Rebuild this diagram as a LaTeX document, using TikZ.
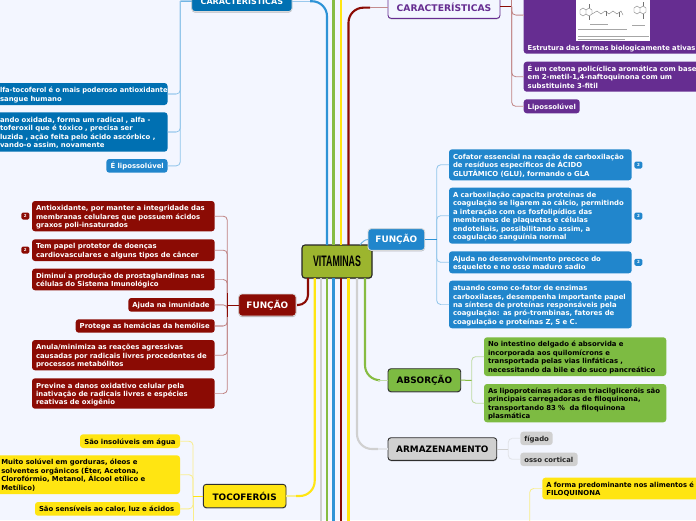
\documentclass[tikz,border=0pt]{standalone}
\usepackage{graphicx}
\usepackage{fontspec}
\setmainfont{DejaVu Sans}
\newfontfamily\titlefont{Liberation Sans}
\usetikzlibrary{shadows}
\definecolor{pagebg}{HTML}{F3F6FF}
\definecolor{cRed}{HTML}{8B0B04}
\definecolor{cBlueD}{HTML}{0070B2}
\definecolor{cBlue}{HTML}{2186CC}
\definecolor{cLine}{HTML}{2E93D6}
\definecolor{cPurple}{HTML}{662D91}
\definecolor{cYellow}{HTML}{FFE512}
\definecolor{cGreen}{HTML}{7DBB42}
\definecolor{cGreenL}{HTML}{86BC42}
\definecolor{cGray}{HTML}{D0D0D0}
\definecolor{cOlive}{HTML}{9CB52E}
\definecolor{cEdge}{HTML}{2E2E2E}
\tikzset{
  leafbody/.style={rounded corners=3pt, font=\fontsize{6.9}{8.45}\selectfont\bfseries, inner sep=0pt, outer sep=0pt},
  leafred/.style={leafbody, fill=cRed, text=white},
  leafdeep/.style={leafbody, fill=cBlueD, text=white},
  leafblue/.style={leafbody, fill=cBlue, text=white},
  leafpurple/.style={leafbody, fill=cPurple, text=white},
  leafyellow/.style={leafbody, fill=cYellow, text=black},
  leafgreen/.style={leafbody, fill=cGreen, text=black},
  leafgray/.style={leafbody, fill=cGray, text=black!85},
  topic/.style={rounded corners=3pt, align=center, inner sep=0pt, outer sep=0pt, line width=0.9pt,
    font=\fontsize{8.9}{10}\selectfont\bfseries,
    drop shadow={shadow xshift=0pt, shadow yshift=-1pt, opacity=0.25, fill=black}},
  topiclight/.style={topic, draw=white!85!black, text=white},
  topicdark/.style={topic, draw=cEdge, text=black},
  badge/.style={rounded corners=1.5pt, minimum width=8pt, minimum height=7pt, inner sep=0pt, text=white,
    font=\fontsize{4}{4}\selectfont\bfseries},
  trunk/.style={line width=2.1pt, draw=#1},
  tail/.style={line width=1.1pt, draw=#1!45!pagebg},
  twig/.style={line width=0.8pt, draw=#1!50!pagebg, rounded corners=4pt},
  twigend/.style={line width=1.1pt, draw=#1!30!pagebg},
  stub/.style={line width=1pt, draw=#1},
}
% style, name, x0, y0, x1, y1, left padding, text
\newcommand{\leaf}[8]{%
  \pgfmathsetmacro{\bw}{#5-(#3)}%
  \pgfmathsetmacro{\bh}{#6-(#4)}%
  \pgfmathsetmacro{\bx}{(#3+#5)/2}%
  \pgfmathsetmacro{\by}{(#4+#6)/2}%
  \node[#1, text width=\bw pt, minimum height=\bh pt] (#2) at (\bx,\by)
    {\leftskip=#7pt\relax\rightskip=-80pt plus 1fil\relax\parindent=0pt\relax\parfillskip=0pt plus 1fil\relax \rule{0pt}{8.4pt}#8\rule[-2.5pt]{0pt}{2.5pt}\par};%
}
\newcommand{\topicbox}[7]{%
  \pgfmathsetmacro{\bw}{#5-(#3)}%
  \pgfmathsetmacro{\bh}{#6-(#4)}%
  \pgfmathsetmacro{\bx}{(#3+#5)/2}%
  \pgfmathsetmacro{\by}{(#4+#6)/2}%
  \node[#1, minimum width=\bw pt, minimum height=\bh pt] (#2) at (\bx,\by) {#7};%
}
\newcommand{\linkL}[3]{\draw[twig=#3] (#1) |- (#2.east); \draw[twigend=#3] (#2.east) -- ++(8,0);}
\newcommand{\linkR}[3]{\draw[twig=#3] (#1) |- (#2.west); \draw[twigend=#3] (#2.west) -- ++(-8,0);}
\begin{document}
\begin{tikzpicture}[x=1pt,y=-1pt]
\useasboundingbox (0,0) rectangle (696,520);
\clip (0,0) rectangle (696,520);
\fill[pagebg] (0,0) rectangle (696,520);

% central topic
\topicbox{topicdark, fill=cOlive, draw=black!85, line width=1.1pt}{ctr}{302}{245}{372}{278}{\titlefont\fontsize{15.2}{16}\selectfont\bfseries\scalebox{0.58}[1]{VITAMINAS}}

% main topics
\topicbox{topiclight, fill=cBlueD, font=\fontsize{8}{10}\selectfont\bfseries}{carL}{191.7}{-9}{292}{11.5}{CARACTERÍSTICAS}
\topicbox{topic, fill=pagebg, draw=cPurple, text=cPurple, font=\fontsize{9.2}{10}\selectfont\bfseries}{carR}{388}{-3}{500}{18.3}{CARACTERÍSTICAS}
\topicbox{topiclight, fill=cRed}{funL}{238.7}{294}{296}{316}{FUNÇÃO}
\topicbox{topiclight, fill=cBlue}{funR}{368}{228.7}{424.7}{250.3}{FUNÇÃO}
\topicbox{topicdark, fill=cYellow}{toco}{203.3}{484.3}{286}{507.7}{TOCOFERÓIS}
\topicbox{topicdark, fill=cGreen}{abso}{388}{368.7}{460.7}{391.7}{ABSORÇÃO}
\topicbox{topicdark, fill=cGray}{arma}{388}{437.7}{496.7}{460.3}{ARMAZENAMENTO}

% free ends of the trunks that leave the picture
\coordinate (upB) at (333.5,-5);
\coordinate (upY) at (341,-5);
\coordinate (dnG) at (321,525);
\coordinate (dnL) at (327,525);
\coordinate (dnB) at (333.5,525);
\coordinate (dnR) at (341,525);
\coordinate (dnY) at (348.5,525);

% trunks
\foreach \endpt/\col in {dnG/cGray,dnL/cGreenL,dnB/cLine,dnR/cRed,dnY/cYellow}
  \draw[trunk=\col] (ctr.south -| \endpt) -- (\endpt);
\foreach \endpt/\col in {upB/cGreenL,upY/cYellow}
  \draw[trunk=\col] (ctr.north -| \endpt) -- (\endpt);
\draw[trunk=cLine, rounded corners=15pt] ([xshift=25pt]ctr.north west) |- ([xshift=18pt]carL.east);
\draw[tail=cLine] ([xshift=18pt]carL.east) -- (carL.east);
\draw[trunk=cRed, rounded corners=15pt] ([xshift=46.5pt]ctr.north west) |- ([xshift=-18pt]carR.west);
\draw[tail=cRed] ([xshift=-18pt]carR.west) -- (carR.west);
\draw[trunk=cRed, rounded corners=10pt] ([xshift=6pt]ctr.south west) |- ([xshift=1pt]funL.east);
\draw[trunk=cYellow, rounded corners=15pt] ([xshift=12.7pt]ctr.south west) |- ([xshift=10pt]toco.east);
\draw[tail=cYellow] ([xshift=10pt]toco.east) -- (toco.east);
\draw[trunk=cGray, rounded corners=15pt] ([xshift=55pt]ctr.south west) |- ([xshift=-10pt]arma.west);
\draw[tail=cGray] ([xshift=-10pt]arma.west) -- (arma.west);
\draw[trunk=cGreenL, rounded corners=15pt] ([xshift=63pt]ctr.south west) |- ([xshift=-10pt]abso.west);
\draw[tail=cGreenL] ([xshift=-10pt]abso.west) -- (abso.west);
\draw[line width=0.9pt, draw=cLine!70!pagebg] ([xshift=-12pt]ctr.north east) .. controls +(2,-3) and +(-3,0) .. (funR.west);

% left blue leaves
\leaf{leafdeep}{bA}{-4}{83}{167.5}{105}{4}{\scalebox{0.97}[1]{lfa-tocoferol é o mais poderoso antioxidante}\\sangue humano}
\leaf{leafdeep}{bB}{-4}{112.3}{167.5}{151.7}{4}{ando oxidada, forma um radical , alfa -\\toferoxil que é tóxico , precisa ser\\luzida , ação feita pelo ácido ascórbico ,\\vando-o assim, novamente}
\leaf{leafblue}{bC}{106.3}{159}{167.5}{172.7}{4.3}{É lipossolúvel}
\coordinate (busA) at (180.3,1);
\draw[stub=cLine] (carL.west) -- (busA);
\linkL{busA}{bA}{cLine}
\linkL{busA}{bB}{cLine}
\linkL{busA}{bC}{cLine}

% purple leaves
\leaf{leafpurple}{pA}{523.7}{-10}{705}{53.7}{4}{\mbox{}\\[42pt]\scalebox{0.985}[1]{Estrutura das formas biologicamente ativas}}
\leaf{leafpurple}{pB}{523.7}{61.7}{705}{91.7}{4}{É um cetona policíclica aromática com base\\em 2-metil-1,4-naftoquinona com um\\substituinte 3-fitil}
\leaf{leafpurple}{pC}{523.7}{99.3}{579.7}{113.3}{4}{Lipossolúvel}
\coordinate (busB) at (511.7,6.7);
\coordinate (busBtop) at (511.7,-5);
\draw[stub=cRed] (carR.east |- busB) -- (busB);
\draw[twig=cRed] (busBtop) -- (busB);
\draw[twig=cRed] (busB) |- ([yshift=6.8pt]pA.west);
\draw[twigend=cRed] ([yshift=6.8pt]pA.west) -- ++(-8,0);
\linkR{busB}{pB}{cRed}
\linkR{busB}{pC}{cRed}

% picture inside the purple leaf
\fill[white] (576.3,-2) rectangle (650.3,41.3);
\begin{scope}[draw=black!55, line width=0.35pt]
  \draw (580,10) -- (583,8) -- (586,10) -- (586,14) -- (583,16) -- (580,14) -- cycle;
  \draw (586,10) -- (589,8) -- (592,10) -- (592,14) -- (589,16) -- (586,14);
  \draw (589,8) -- (589,4) (589,16) -- (589,20);
  \draw (592,14) -- (597,11) -- (601,14) -- (605,11) -- (609,14) -- (613,11) -- (617,14) -- (621,11) -- (623,15);
  \draw (606,11) -- (606,16) (619,12) -- (619,17);
  \draw (634,8) -- (637,6) -- (640,8) -- (640,12) -- (637,14) -- (634,12) -- cycle;
  \draw (640,8) -- (643,6) -- (646,8) -- (646,12) -- (643,14) -- (640,12);
  \draw (643,6) -- (643,2) (643,14) -- (643,19);
  \draw[black!35] (590,24) -- (608,24) (632,25) -- (645,25);
  \draw[black!35] (578,29.5) -- (627,29.5);
  \draw[black!35] (578,36.5) -- (649,36.5) (578,39) -- (625,39);
\end{scope}

% left red leaves
\leaf{leafred}{rA}{32}{201}{214.7}{231.3}{4}{Antioxidante, por manter a integridade das\\membranas celulares que possuem ácidos\\graxos poli-insaturados}
\leaf{leafred}{rB}{32}{239.3}{214.7}{261}{4}{Tem papel protetor de doenças\\cardiovasculares e alguns tipos de câncer}
\leaf{leafred}{rC}{32}{268.7}{214.7}{290.3}{4}{Diminuí a produção de prostaglandinas nas\\células do Sistema Imunológico}
\leaf{leafred}{rD}{128.3}{298}{214.7}{311.7}{4}{Ajuda na imunidade}
\leaf{leafred}{rE}{75.7}{319.3}{214.7}{332.7}{4}{Protege as hemácias da hemólise}
\leaf{leafred}{rF}{32}{340}{214.7}{370.3}{4}{Anula/minimiza as reações agressivas\\causadas por radicais livres procedentes de\\processos metabólitos}
\leaf{leafred}{rG}{32}{378.3}{214.7}{408.7}{4}{Previne a danos oxidativo celular pela\\inativação de radicais livres e espécies\\reativas de oxigênio}
\node[badge, fill=cRed] (bdgA) at (25.3,216) {2};
\node[badge, fill=cRed] (bdgB) at (25.3,250) {2};
\coordinate (busC) at (227.3,305);
\foreach \kid in {rA,rB,rC,rD,rE,rF,rG} {\linkL{busC}{\kid}{cRed}}
\draw[stub=cRed] (funL.west) -- (busC);
\draw[stub=cRed, line width=0.7pt] (busC) -- ++(0,-12) (busC) -- ++(0,12);

% right blue leaves
\leaf{leafblue}{cA}{449}{149.3}{631.7}{180.3}{4}{Cofator essencial na reação de carboxilação\\de resíduos específicos de ÁCIDO\\GLUTÂMICO (GLU), formando o GLA}
\leaf{leafblue}{cB}{449}{187.7}{631.7}{243.7}{4}{A carboxilação capacita proteínas de\\coagulação se ligarem ao cálcio, permitindo\\a interação com os fosfolipídios das\\membranas de plaquetas e células\\endoteliais, possibilitando assim, a\\coagulação sanguínia normal}
\leaf{leafblue}{cC}{449}{251.3}{631.7}{273.3}{4}{Ajuda no desenvolvimento precoce do\\esqueleto e no osso maduro sadio}
\leaf{leafblue}{cD}{449}{280.7}{631.7}{328.3}{4}{atuando como co-fator de enzimas\\carboxilases, desempenha importante papel\\na síntese de proteínas responsáveis pela\\coagulação: as pró-trombinas, fatores de\\coagulação e proteínas Z, S e C.}
\node[badge, fill=cBlue] (bdgC) at (638.4,165) {2};
\node[badge, fill=cBlue] (bdgD) at (638.4,216) {2};
\node[badge, fill=cBlue] (bdgE) at (638.4,262.3) {2};
\coordinate (busD) at (436.7,239.5);
\foreach \kid in {cA,cB,cC,cD} {\linkR{busD}{\kid}{cLine}}
\draw[stub=cLine] (funR.east) -- (busD);

% yellow leaves
\leaf{leafyellow}{yA}{80}{434.3}{180}{448}{4.3}{São insolúveis em água}
\leaf{leafyellow}{yB}{-4}{455.3}{180}{494}{5.3}{Muito solúvel em gorduras, óleos e\\solventes orgânicos (Éter, Acetona,\\Clorofórmio, Metanol, Álcool etílico e\\Metílico)}
\leaf{leafyellow}{yC}{35}{502}{180}{515.7}{4}{São sensíveis ao calor, luz e ácidos}
\coordinate (busE) at (193,496);
\coordinate (busEend) at (193,525);
\foreach \kid in {yA,yB,yC} {\linkL{busE}{\kid}{cYellow}}
\draw[twig=cYellow] (busE) -- (busEend);
\draw[stub=cYellow] (toco.west) -- (busE);

% green leaves
\leaf{leafgreen}{gA}{484}{337.3}{666.3}{376}{4}{No intestino delgado é absorvida e\\incorporada aos quilomícrons e\\transportada pelas vias linfáticas ,\\necessitando da bile e do suco pancreático}
\leaf{leafgreen}{gB}{484}{384}{666.3}{422.3}{4}{As lipoproteínas ricas em triacilgliceróis são\\principais carregadoras de filoquinona,\\transportando 83 \%\ \ da filoquinona\\plasmática}
\coordinate (busF) at (471.7,380.3);
\foreach \kid in {gA,gB} {\linkR{busF}{\kid}{cGreenL}}
\draw[stub=cGreenL] (abso.east) -- (busF);

% grey leaves
\leaf{leafgray}{hA}{520.3}{431.7}{552.7}{445}{4}{fígado}
\leaf{leafgray}{hB}{520.3}{452.7}{577.7}{466}{4}{osso cortical}
\coordinate (busH) at (508.3,449);
\foreach \kid in {hA,hB} {\linkR{busH}{\kid}{cGray}}
\draw[stub=cGray] (arma.east) -- (busH);

% lower right yellow leaf
\leaf{leafyellow}{yD}{542.3}{477.7}{705}{499.3}{4}{\scalebox{0.975}[1]{A forma predominante nos alimentos é}\\FILOQUINONA}
\coordinate (busI) at (529.7,525);
\linkR{busI}{yD}{cYellow}
\end{tikzpicture}
\end{document}
